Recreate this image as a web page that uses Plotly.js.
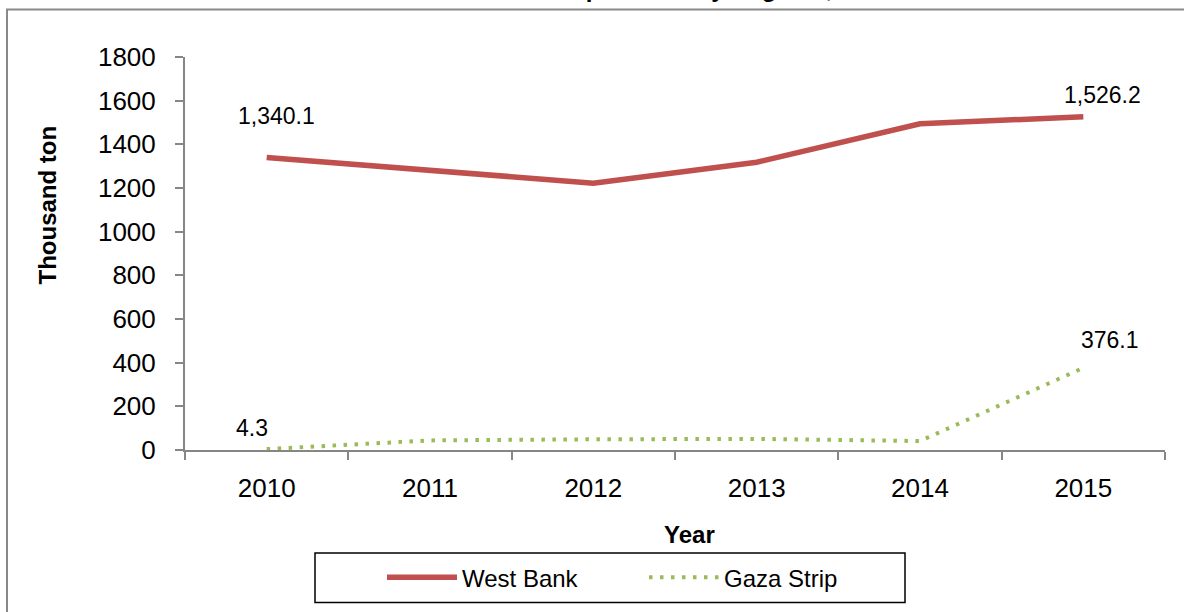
<!DOCTYPE html>
<html>
<head>
<meta charset="utf-8">
<script src="https://cdn.plot.ly/plotly-3.0.1.min.js"></script>
<style>
  html, body { margin: 0; padding: 0; background: #fff; }
  #chart { width: 1184px; height: 612px; }
</style>
</head>
<body>
<div id="chart"></div>
<script>
const years = ["2010", "2011", "2012", "2013", "2014", "2015"];
const westBank = [1340.1, 1280, 1222, 1318, 1494, 1526.2];
const gazaStrip = [4.3, 44, 49, 51, 41, 376.1];
const yTicks = [0, 200, 400, 600, 800, 1000, 1200, 1400, 1600, 1800];

const chart = document.getElementById("chart");
const fontFamily = "Liberation Sans, Arial, sans-serif";
const axisGray = "#868686";

// plot area in pixels, used to turn pixel spots into paper coords
const plotLeft = 185;
const plotRight = 1165;
const plotTop = 57;
const plotBottom = 454;
const px = x => (x - plotLeft) / (plotRight - plotLeft);
const py = y => (plotBottom - y) / (plotBottom - plotTop);

function fmt(v) {
  return v.toLocaleString("en-US", { minimumFractionDigits: 1, maximumFractionDigits: 1 });
}

const last = years.length - 1;
const labelFont = { family: fontFamily, size: 23, color: "#000" };

// point labels: x is the category index on the category axis
function pointLabel(series, i, dx, dy) {
  return {
    text: fmt(series[i]), xref: "x", yref: "y", x: i, y: series[i],
    xshift: dx, yshift: dy, showarrow: false, font: labelFont
  };
}

const annotations = [
  // title sits mostly above the picture, only its lower edge shows
  {
    text: "Solid Waste Transportation by Regions, 2010-2015",
    xref: "paper", yref: "paper",
    x: px(378), y: py(3),
    xanchor: "left", yanchor: "bottom",
    showarrow: false,
    font: { family: fontFamily, size: 24, color: "#000", weight: "bold" }
  },
  {
    text: "Thousand ton",
    xref: "paper", yref: "paper",
    x: px(47), y: py(207),
    xanchor: "center", yanchor: "middle",
    textangle: -90,
    showarrow: false,
    font: { family: fontFamily, size: 24, color: "#000", weight: "bold" }
  },
  {
    text: "Year",
    xref: "paper", yref: "paper",
    x: px(689), y: py(539),
    xanchor: "center", yanchor: "middle",
    showarrow: false,
    font: { family: fontFamily, size: 24, color: "#000", weight: "bold" }
  },
  pointLabel(westBank, 0, 10, 41),
  pointLabel(westBank, last, 19, 22),
  pointLabel(gazaStrip, 0, -15, 21),
  pointLabel(gazaStrip, last, 27, 28)
];

const shapes = [
  // outer chart frame (right and bottom edges fall off the picture)
  {
    type: "rect", xref: "paper", yref: "paper",
    x0: px(7), x1: px(1200), y0: py(9), y1: py(640),
    line: { color: "#898989", width: 2 }
  },
  // legend box
  {
    type: "rect", xref: "paper", yref: "paper",
    x0: px(315), x1: px(905), y0: py(558), y1: py(608),
    line: { color: "#000", width: 1.5 }
  }
];

Plotly.newPlot(
  chart,
  [
    {
      type: "scatter",
      mode: "lines",
      name: "West Bank",
      x: years,
      y: westBank,
      line: { color: "#C0504D", width: 5.5 },
      hoverinfo: "y"
    },
    {
      type: "scatter",
      mode: "lines",
      name: "Gaza Strip",
      x: years,
      y: gazaStrip,
      line: { color: "#9BBB59", width: 4, dash: "3.5px,7.5px" },
      hoverinfo: "y"
    }
  ],
  {
    width: 1184,
    height: 612,
    paper_bgcolor: "#fff",
    plot_bgcolor: "#fff",
    margin: { l: plotLeft, r: 1184 - plotRight, t: plotTop, b: 612 - plotBottom, pad: 0 },
    font: { family: fontFamily, size: 26, color: "#000" },
    showlegend: true,
    legend: {
      orientation: "h",
      x: px(382), xanchor: "left",
      y: py(583), yanchor: "middle",
      itemwidth: 70,
      entrywidth: 177,
      entrywidthmode: "pixels",
      bgcolor: "rgba(0,0,0,0)",
      borderwidth: 0,
      font: { family: fontFamily, size: 24, color: "#000" }
    },
    xaxis: {
      type: "category",
      range: [-0.5, years.length - 0.5],
      tickson: "boundaries",
      ticks: "outside",
      ticklen: 8,
      tickwidth: 2,
      tickcolor: axisGray,
      showline: true,
      linecolor: axisGray,
      linewidth: 2,
      showgrid: false,
      zeroline: false,
      ticklabelstandoff: 14,
      tickfont: { family: fontFamily, size: 26, color: "#000" },
      fixedrange: true
    },
    yaxis: {
      range: [0, 1800],
      tickvals: yTicks,
      ticktext: yTicks.map(String),
      ticks: "outside",
      ticklen: 8,
      tickwidth: 2,
      tickcolor: axisGray,
      showline: true,
      linecolor: axisGray,
      linewidth: 2,
      showgrid: false,
      zeroline: false,
      ticklabelstandoff: 14,
      tickfont: { family: fontFamily, size: 26, color: "#000" },
      fixedrange: true
    },
    annotations: annotations,
    shapes: shapes
  },
  { displayModeBar: false, staticPlot: true }
);
</script>
</body>
</html>
